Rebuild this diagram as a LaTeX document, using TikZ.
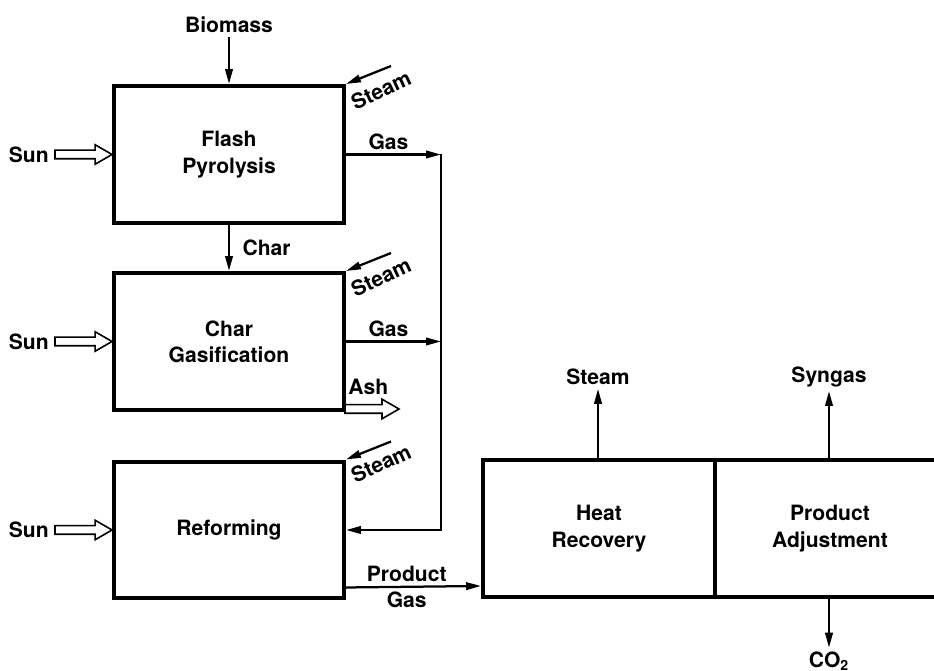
\documentclass[tikz,border=0pt]{standalone}
\usepackage{fontspec}
\setmainfont{TeX Gyre Heros}
\usetikzlibrary{positioning, arrows.meta, shapes.arrows}

\begin{document}
\begin{tikzpicture}[x=0.02cm, y=-0.02cm,
      font=\fontsize{12}{15}\selectfont\bfseries,
      unit/.style={draw, line width=0.08cm, minimum width=4.6cm, minimum height=2.74cm,
                   align=center, inner sep=0pt},
      flow/.style={-{Triangle[length=0.3cm, width=0.15cm]}, line width=0.045cm},
      hollow/.style={single arrow, draw, line width=0.032cm, minimum height=1.14cm, single arrow tip angle=60,
                     single arrow head extend=0.11cm, inner sep=0.07cm, outer sep=0pt},
      lbl/.style={inner sep=2pt},
      tilted/.style={inner sep=0pt, rotate=25}]
    \useasboundingbox (0,0) rectangle (934,671);
    \clip (0,0) rectangle (934,671);
    % process units
    \node[unit] (fp) at (229,154.5) {Flash\\Pyrolysis};
    \node[unit] (cg) at (229,341.5) {Char\\Gasification};
    \node[unit] (ref) at (229,530) {Reforming};
    \node[unit, minimum width=4.64cm] (hr) at (599,528.5) {Heat\\Recovery};
    \node[unit] (pa) at (830,528.5) {Product\\Adjustment};
    \coordinate (gasx) at (441,0);
    % solar input
    \node[hollow, anchor=tip] (sun1) at (fp.west) {};
    \node[hollow, anchor=tip] (sun2) at (cg.west) {};
    \node[hollow, anchor=tip] (sun3) at (ref.west) {};
    \node[lbl, left=0.05cm of sun1] {Sun};
    \node[lbl, left=0.05cm of sun2] {Sun};
    \node[lbl, left=0.05cm of sun3] {Sun};
    % feeds
    \node[lbl] (bio) at (229,25) {Biomass};
    \draw[flow] (bio) -- (fp.north);
    \draw[flow] (fp.south) -- (cg.north) node[lbl, midway, right=0.18cm] {Char};
    \draw[flow] ([shift={(45,-18)}]fp.north east) -- (fp.north east);
    \draw[flow] ([shift={(45,-18)}]cg.north east) -- (cg.north east);
    \draw[flow] ([shift={(45,-18)}]ref.north east) -- (ref.north east);
    \node[tilted] at ([shift={(35,6)}]fp.north east) {Steam};
    \node[tilted] at ([shift={(35,6)}]cg.north east) {Steam};
    \node[tilted] at ([shift={(35,4)}]ref.north east) {Steam};
    % gas collection
    \draw[flow] (fp.east) -- (fp.east -| gasx) node[lbl, midway, above, xshift=-0.1cm] {Gas};
    \draw[flow] (cg.east) -- (cg.east -| gasx) node[lbl, midway, above, xshift=-0.1cm] {Gas};
    \draw[flow] (fp.east -| gasx) |- (ref.east);
    \node[hollow, anchor=tail, minimum height=1.08cm] (ash) at (345,409) {};
    \node[lbl, above=0.12cm of ash] {Ash};
    \draw[flow] ([yshift=0.26cm]ref.south east) -- ([yshift=0.26cm]hr.south west)
      node[lbl, pos=0.45, above] {Product} node[lbl, pos=0.45, below] {Gas};
    % products
    \node[lbl] (stm) at (598,377) {Steam};
    \node[lbl] (syn) at (829,377) {Syngas};
    \node[lbl] (co2) at (829,661) {CO\textsubscript{2}};
    \draw[flow] (hr.north -| stm) -- (stm);
    \draw[flow] (pa.north -| syn) -- (syn);
    \draw[flow] (pa.south -| co2) -- (co2);
  \end{tikzpicture}
\end{document}
